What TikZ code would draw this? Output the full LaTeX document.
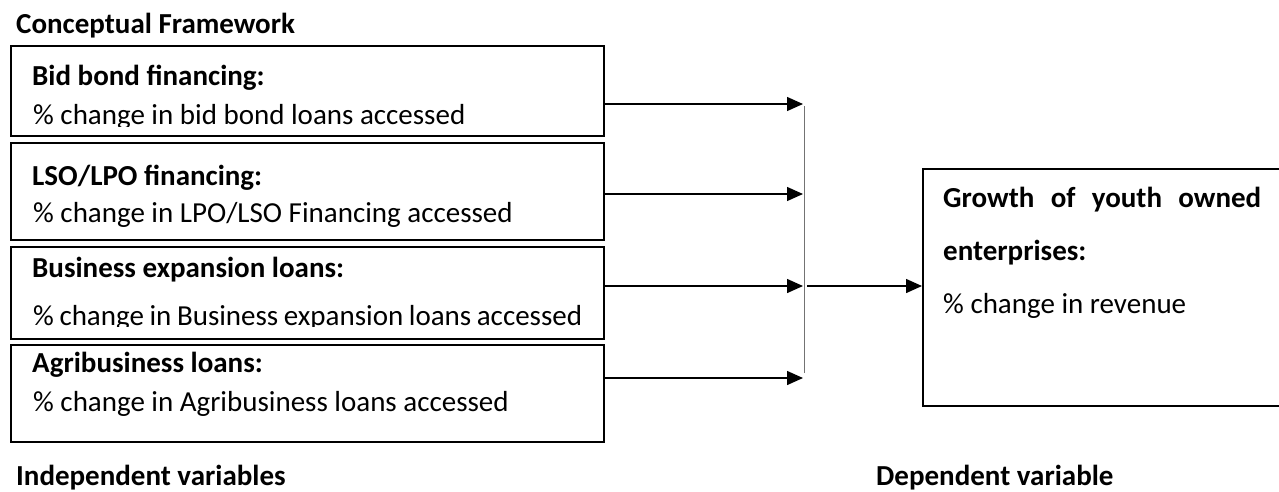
\documentclass[tikz,border=0pt]{standalone}
\usepackage{fontspec}
\setmainfont{Carlito}
\usetikzlibrary{arrows.meta}
\tikzset{
  varbox/.style={draw=black, line width=2pt, anchor=north west, inner sep=0pt},
  txt/.style={anchor=base west, inner sep=0pt, font=\fontsize{29}{34}\selectfont},
  btxt/.style={txt, font=\fontsize{29}{34}\selectfont\bfseries},
  arr/.style={line width=1.4pt, -{Triangle[length=16pt,width=14pt]}},
  joinline/.style={draw=black!55, line width=1pt}
}
\begin{document}
\begin{tikzpicture}[x=1pt, y=-1pt]
\useasboundingbox (0,0) rectangle (1279,491);
\clip (0,0) rectangle (1279,491);
% title
\node[btxt] (title) at (16,33) {Conceptual Framework};
% independent variable boxes
\node[varbox, minimum width=593pt, minimum height=90pt] (b1) at (10,45) {};
\node[varbox, minimum width=593pt, minimum height=97pt] (b2) at (10,142) {};
\node[varbox, minimum width=593pt, minimum height=92pt] (b3) at (10,246) {};
\node[varbox, minimum width=593pt, minimum height=97pt] (b4) at (10,344) {};
% texts
\node[btxt] (t1) at (32,85) {Bid bond financing:};
\begin{scope}
  \clip (20,90) rectangle (600,126);
  \node[txt] (s1) at (33,124) {\% change in bid bond loans accessed};
\end{scope}
\node[btxt] (t2) at (32,185) {LSO/LPO financing:};
\node[txt] (s2) at (33,222) {\% change in LPO/LSO Financing accessed};
\node[btxt] (t3) at (32,277) {Business expansion loans:};
\begin{scope}
  \clip (20,285) rectangle (600,326);
  \node[txt] (s3) at (33,325) {\makebox[549pt][s]{\% change in Business expansion loans accessed}};
\end{scope}
\node[btxt] (t4) at (32,372) {Agribusiness loans:};
\node[txt] (s4) at (33,411) {\% change in Agribusiness loans accessed};
% junction
\coordinate (j1) at (803,104);
\coordinate (j2) at (803,194);
\coordinate (j3) at (803,286);
\coordinate (j4) at (803,378);
\coordinate (vtop) at (804.5,106);
\coordinate (vbot) at (804.5,373);
\coordinate (jout) at (807,286);
\draw[arr] (b1.east |- j1) -- (j1);
\draw[arr] (b2.east |- j2) -- (j2);
\draw[arr] (b3.east |- j3) -- (j3);
\draw[arr] (b4.east |- j4) -- (j4);
\draw[joinline] (vtop) -- (vbot);
% dependent variable box
\node[draw=black, line width=1.6pt, anchor=north west, inner sep=0pt,
      minimum width=380pt, minimum height=237pt] (dv) at (922,168) {};
\draw[arr] (jout) -- (dv.west |- jout);
\node[btxt] (d1) at (943,207) {\makebox[318pt][s]{Growth of youth owned}};
\node[btxt] (d2) at (943,260) {enterprises:};
\node[txt] (d3) at (943,313) {\% change in revenue};
% bottom labels
\node[btxt] (iv) at (16,485) {Independent variables};
\node[btxt] (dvl) at (876,485) {Dependent variable};
\end{tikzpicture}
\end{document}
